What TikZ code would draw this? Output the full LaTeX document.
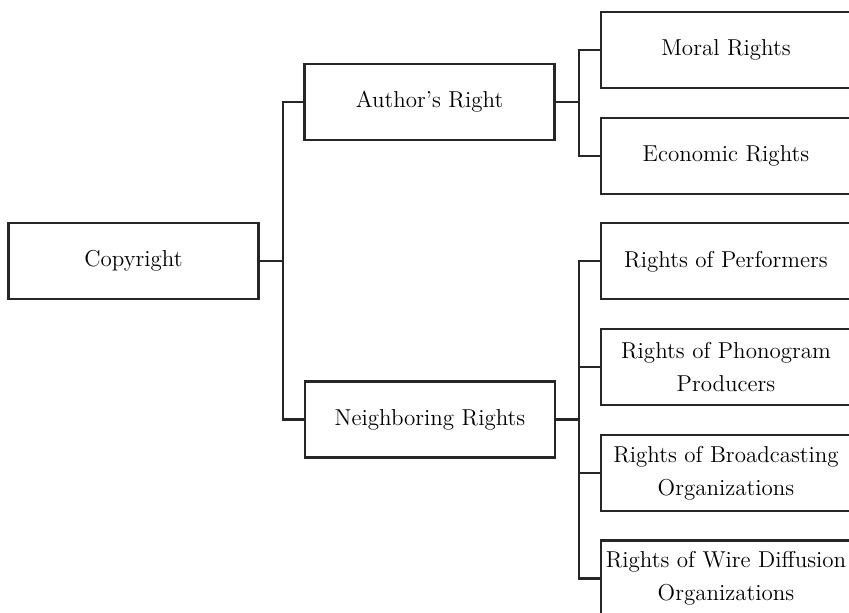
\documentclass[tikz,border=0pt]{standalone}
\usepackage{tikz}
\usetikzlibrary{positioning}

\begin{document}
\begin{tikzpicture}[
        x=0.5pt, y=-0.5pt,
        node distance=13.75pt,
        box/.style={rectangle, draw=black!85, line width=1.1pt, minimum width=125pt, minimum height=38pt, inner sep=2pt, align=center, font=\fontsize{11.5}{16.5}\selectfont},
        link/.style={draw=black!85, line width=1.1pt}
    ]
        \useasboundingbox (0,0) rectangle (849,613);
        \clip (0,0) rectangle (849,613);

        % Left part
        \node[box] (copyright) at (133.5,261) {Copyright};
        \node[box] (author) at (429.5,102) {Author's Right};
        \node[box] (neighbor) at (430,419.5) {Neighboring Rights};

        % Right part
        \node[box] (moral) at (726,50) {Moral Rights};
        \node[box, below=of moral] (economic) {Economic Rights};
        \node[box, below=of economic] (performers) {Rights of Performers};
        \node[box, below=of performers] (phonogram) {Rights of Phonogram\\Producers};
        \node[box, below=of phonogram] (broadcast) {Rights of Broadcasting\\Organizations};
        \node[box, below=of broadcast] (wire) {Rights of Wire Diffusion\\Organizations};

        % Connections
        \draw[link] (copyright.east) -- ++(23,0) coordinate (j1);
        \draw[link] (author.west) -| (j1) |- (neighbor.west);

        \draw[link] (author.east) -- ++(23.5,0) coordinate (j2);
        \draw[link] (moral.west) -| (j2) |- (economic.west);

        \draw[link] (neighbor.east) -- ++(23,0) coordinate (j3);
        \draw[link] (performers.west) -| (j3) |- (wire.west);
        \draw[link] (phonogram.west) -- (phonogram.west -| j3);
        \draw[link] (broadcast.west) -- (broadcast.west -| j3);

    \end{tikzpicture}
\end{document}
